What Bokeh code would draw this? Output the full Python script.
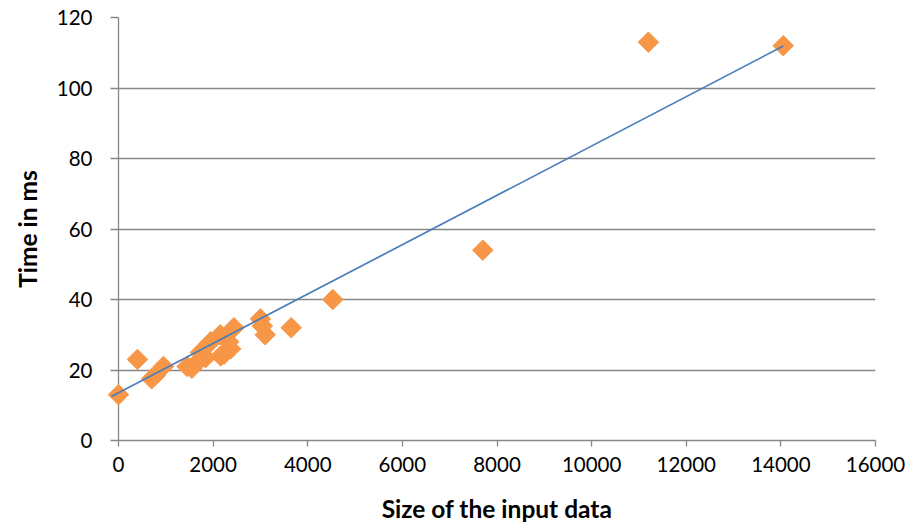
import numpy as np
from bokeh.plotting import figure
from bokeh.models import Range1d, FixedTicker, ColumnDataSource
from bokeh.embed import file_html
from bokeh.resources import INLINE

# Data
size_x = [0, 400, 700, 780, 950, 1450, 1550, 1650, 1730, 1800, 1840, 1950,
          2150, 2160, 2230, 2330, 2370, 2440, 3000, 3040, 3100, 3650, 4530,
          7700, 11200, 14050]
time_ms = [13, 23, 17.5, 18.5, 21, 21, 20.5, 22, 25, 24, 23.5, 28,
           30, 24, 24.5, 28, 26, 32, 34.5, 32.5, 30, 32, 40,
           54, 113, 112]
# Linear trendline as drawn in the reference (end points)
trend_x = [-150, 14050]
trend_y = [12.5, 111.9]
x_ticks = [0, 2000, 4000, 6000, 8000, 10000, 12000, 14000, 16000]
y_ticks = [0, 20, 40, 60, 80, 100, 120]

FONT = "Lato"
GRAY = "#868686"

p = figure(width=915, height=530, output_backend="svg", toolbar_location=None,
           x_range=Range1d(0, 16000), y_range=Range1d(0, 120),
           min_border_left=118, min_border_right=40, min_border_top=17,
           min_border_bottom=90)
p.outline_line_color = None
p.xgrid.visible = False
p.ygrid.grid_line_color = GRAY
p.ygrid.grid_line_width = 1.3
p.xaxis.ticker = FixedTicker(ticks=x_ticks)
p.yaxis.ticker = FixedTicker(ticks=y_ticks)

for ax in (p.xaxis[0], p.yaxis[0]):
    ax.axis_line_color = GRAY
    ax.axis_line_width = 1.3
    ax.major_tick_line_color = GRAY
    ax.major_tick_line_width = 1.3
    ax.major_tick_in = 0
    ax.minor_tick_line_color = None
    ax.major_label_text_font = FONT
    ax.major_label_text_font_size = "20.5px"
    ax.major_label_text_color = "black"
    ax.axis_label_text_font = FONT
    ax.axis_label_text_font_size = "24.5px"
    ax.axis_label_text_font_style = "bold"
    ax.axis_label_text_color = "black"

p.xaxis.major_tick_out = 6
p.xaxis.major_label_standoff = 10
p.xaxis.axis_label = "Size of the input data"
p.xaxis.axis_label_standoff = 19
p.yaxis.major_tick_out = 8
p.yaxis.major_label_standoff = 18
p.yaxis.axis_label = "Time in ms"
p.yaxis.axis_label_standoff = 12

src = ColumnDataSource(dict(x=size_x, y=time_ms))
r = p.scatter("x", "y", source=src, marker="square", angle=np.pi / 4,
              size=14.5, fill_color="#F79646", line_color="#F79646")
r.level = "overlay"

lr = p.line(trend_x, trend_y, line_color="#4A7EBB", line_width=1.7)
lr.level = "overlay"

open("out.html", "w").write(file_html(p, INLINE))
